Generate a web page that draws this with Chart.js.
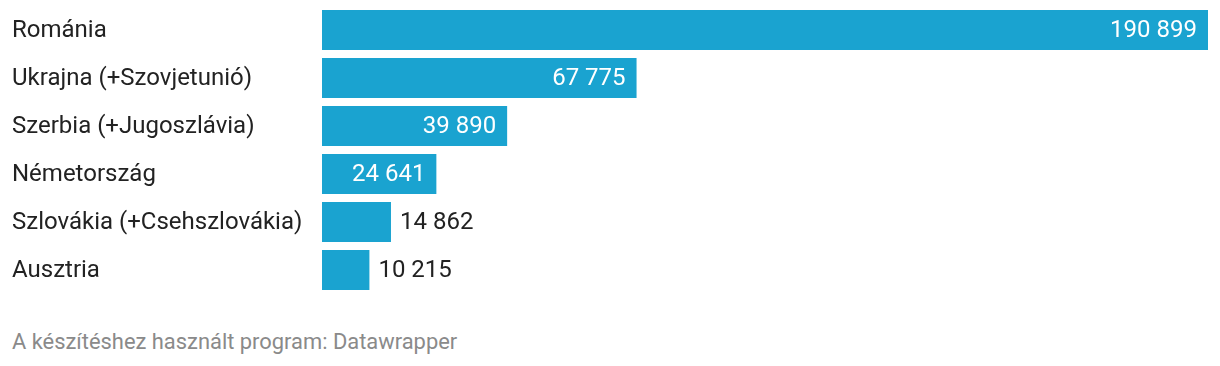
<!DOCTYPE html>
<html>
<head>
<meta charset="utf-8">
<script src="https://cdn.jsdelivr.net/npm/chart.js@4"></script>
<style>
  html, body { margin: 0; padding: 0; background: #fff; }
  #wrap { position: relative; width: 1220px; height: 300px; }
  #footer {
    position: absolute; left: 12px; top: 329px;
    font-family: Roboto, sans-serif; font-size: 21.9px; color: #8a8a8a;
  }
</style>
</head>
<body>
<div id="wrap"><canvas id="chart"></canvas></div>
<div id="footer">A készítéshez használt program: Datawrapper</div>
<script>
// ---- Data ----
const countries = [
  "Románia",
  "Ukrajna (+Szovjetunió)",
  "Szerbia (+Jugoszlávia)",
  "Németország",
  "Szlovákia (+Csehszlovákia)",
  "Ausztria"
];
const people = [190899, 67775, 39890, 24641, 14862, 10215];

const BAR_COLOR = "#1aa3d0";
const TEXT_COLOR = "#222222";
const FONT = "Roboto, sans-serif";

// thousands with a space, e.g. 190 899
function fmt(v) {
  return String(v).replace(/\B(?=(\d{3})+(?!\d))/g, " ");
}

// country names on the left + value labels (inside bar if they fit)
const barLabels = {
  id: "barLabels",
  afterDatasetsDraw(chart) {
    const ctx = chart.ctx;
    const meta = chart.getDatasetMeta(0);
    ctx.save();
    ctx.font = "24px " + FONT;
    ctx.textBaseline = "middle";
    meta.data.forEach((bar, i) => {
      ctx.fillStyle = TEXT_COLOR;
      ctx.textAlign = "left";
      ctx.fillText(countries[i], 12, bar.y + 1);

      const text = fmt(people[i]);
      const w = ctx.measureText(text).width;
      const barW = bar.x - bar.base;
      if (w + 20 < barW) {
        ctx.fillStyle = "#ffffff";
        ctx.textAlign = "right";
        ctx.fillText(text, bar.x - 11, bar.y + 1);
      } else {
        ctx.fillStyle = TEXT_COLOR;
        ctx.fillText(text, bar.x + 9, bar.y + 1);
      }
    });
    ctx.restore();
  }
};

new Chart(document.getElementById("chart"), {
  type: "bar",
  data: {
    labels: countries,
    datasets: [{
      data: people,
      backgroundColor: BAR_COLOR,
      borderWidth: 0,
      categoryPercentage: 40 / 48,
      barPercentage: 1
    }]
  },
  options: {
    indexAxis: "y",
    responsive: true,
    maintainAspectRatio: false,
    animation: false,
    layout: { padding: { left: 322, right: 12, top: 6, bottom: 6 } },
    plugins: {
      legend: { display: false },
      tooltip: { enabled: false }
    },
    scales: {
      x: { display: false, min: 0, max: 190899 },
      y: { display: false }
    }
  },
  plugins: [barLabels]
});
</script>
</body>
</html>
